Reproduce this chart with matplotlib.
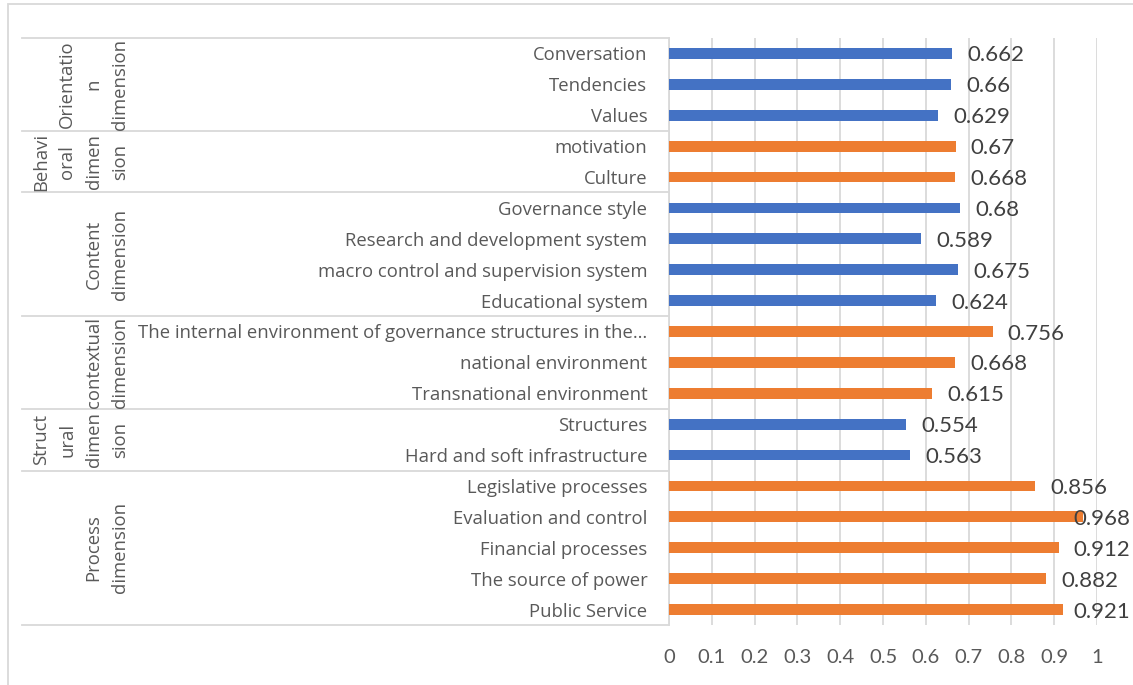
import matplotlib
matplotlib.use("Agg")
import matplotlib.pyplot as plt
from matplotlib.transforms import blended_transform_factory, offset_copy
from matplotlib.patches import Rectangle
from matplotlib.lines import Line2D

# Categories listed top to bottom, with their loadings
categories = [
    "Conversation", "Tendencies", "Values",
    "motivation", "Culture",
    "Governance style", "Research and development system",
    "macro control and supervision system", "Educational system",
    "The internal environment of governance structures in the\u2026",
    "national environment", "Transnational environment",
    "Structures", "Hard and soft infrastructure",
    "Legislative processes", "Evaluation and control", "Financial processes",
    "The source of power", "Public Service",
]
values = [
    0.662, 0.66, 0.629,
    0.67, 0.668,
    0.68, 0.589, 0.675, 0.624,
    0.756, 0.668, 0.615,
    0.554, 0.563,
    0.856, 0.968, 0.912, 0.882, 0.921,
]
group_names = [
    "Orientatio\nn\ndimension",
    "Behavi\noral\ndimen\nsion",
    "Content\ndimension",
    "contextual\ndimension",
    "Struct\nural\ndimen\nsion",
    "Process\ndimension",
]
group_sizes = [3, 2, 4, 3, 2, 5]
x_ticks = [0, 0.1, 0.2, 0.3, 0.4, 0.5, 0.6, 0.7, 0.8, 0.9, 1]
x_tick_labels = ["0", "0.1", "0.2", "0.3", "0.4", "0.5", "0.6", "0.7", "0.8", "0.9", "1"]

BLUE = "#4472C4"
ORANGE = "#ED7D31"
GRID = "#D9D9D9"
TEXT = "#595959"
LABEL = "#404040"

W, H = 1133, 685
fig = plt.figure(figsize=(W / 100, H / 100), dpi=100)
fig.patch.set_facecolor("white")

# plot area in pixels
x0, x1 = 669, 1097
y_top, y_bot = 38, 625
ax = fig.add_axes([x0 / W, (H - y_bot) / H, (x1 - x0) / W, (y_bot - y_top) / H])

n = len(categories)
ypos = [n - 1 - i for i in range(n)]

# bar colours alternate by group
colors = []
for gi, size in enumerate(group_sizes):
    colors += [BLUE if gi % 2 == 0 else ORANGE] * size

ax.barh(ypos, values, height=0.35, color=colors, zorder=3)

ax.set_xlim(0, 1)
ax.set_ylim(-0.5, n - 0.5)
ax.set_xticks(x_ticks)
ax.set_xticklabels(x_tick_labels, fontfamily="Lato", fontsize=14.5, color=TEXT)
ax.set_yticks(ypos)
ax.set_yticklabels(categories, fontfamily="Open Sans", fontsize=13.3, color=TEXT)
ax.tick_params(axis="y", length=0, pad=15.5)
ax.tick_params(axis="x", length=0, pad=17)
ax.grid(axis="x", color=GRID, linewidth=1.3, zorder=0)
for s in ["top", "right", "bottom"]:
    ax.spines[s].set_visible(False)
ax.spines["left"].set_color(GRID)
ax.spines["left"].set_linewidth(1.3)

# value labels, kept inside the chart area
pad, limit = 0.035, 0.944
label_tr = offset_copy(ax.transData, fig=fig, x=0, y=-2, units="dots")
for y, v in zip(ypos, values):
    ax.text(min(v + pad, limit), y, f"{v:g}", va="center", ha="left",
            transform=label_tr, fontfamily="Lato", fontsize=16,
            color=LABEL, zorder=4)

# multi-level category axis: group separators and rotated group names
tr = blended_transform_factory(fig.transFigure, ax.transData)
bounds = [n - 0.5]
for size in group_sizes:
    bounds.append(bounds[-1] - size)
for b in bounds:
    fig.add_artist(Line2D([22 / W, x0 / W], [b, b], transform=tr,
                          color=GRID, linewidth=1.3))
for gi, name in enumerate(group_names):
    yc = (bounds[gi] + bounds[gi + 1]) / 2
    fig.text(129 / W, yc, name, transform=tr, rotation=90, ha="right",
             va="center", multialignment="center", linespacing=1.6,
             fontfamily="Open Sans", fontsize=13.3, color=TEXT)

# chart area border
fig.add_artist(Rectangle((8 / W, -0.2), 1.2, 0.2 + (H - 4) / H,
                         transform=fig.transFigure, fill=False,
                         edgecolor=GRID, linewidth=1.3))

fig.savefig("out.png", dpi=100)
